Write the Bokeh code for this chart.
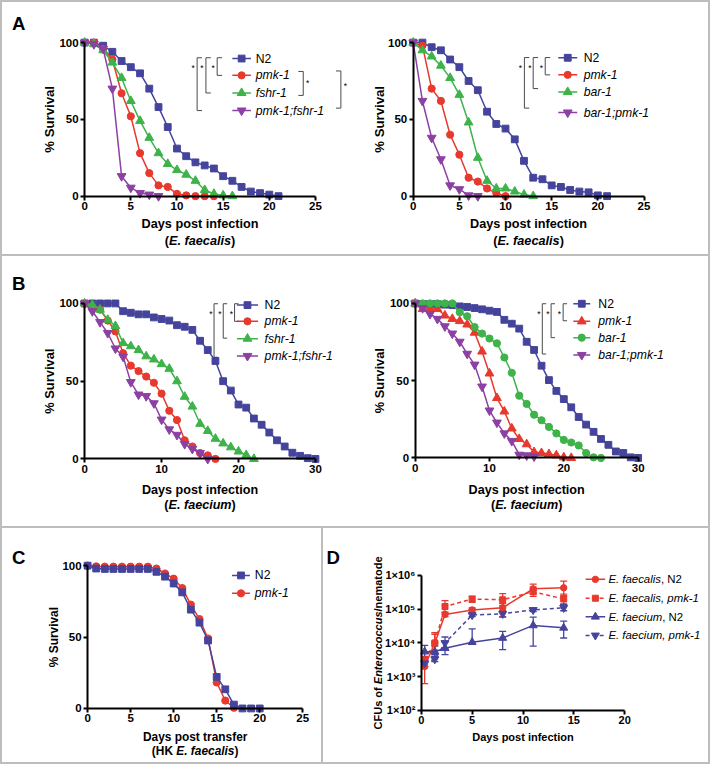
import math
from bokeh.plotting import figure
from bokeh.models import Range1d, Label, FixedTicker, Whisker, TeeHead, ColumnDataSource
from bokeh.layouts import row, column
from bokeh.embed import file_html
from bokeh.resources import INLINE

FONT = "Liberation Sans"
S = 0.978
BLUE = "#45449c"
RED = "#e8392e"
GREEN = "#3db34a"
PURPLE = "#8c40a3"
BRK = "#4a4a4a"
GRAY = "#bdbdbd"

# ---------------- data ----------------
# Panel A left (E. faecalis)
a1_n2_days = list(range(0, 22))
a1_n2 = [100, 100, 98, 94, 88, 84, 80, 70, 58, 45, 31, 26, 22, 20, 18, 13, 10, 6, 3, 2, 1, 0]
a1_pmk1_days = list(range(0, 15))
a1_pmk1 = [100, 100, 96, 89, 67, 52, 28, 15, 7, 6, 1.5, 0.5, 0, 0, 0]
a1_fshr1_days = list(range(0, 17))
a1_fshr1 = [100, 99, 95, 87, 77, 62, 49, 38, 28, 21, 17, 14, 10, 4, 1.5, 0.5, 0]
a1_dbl_days = list(range(0, 9))
a1_dbl = [100, 99, 96, 70, 13, 5.5, 2, 1, 0]

# Panel A right (E. faecalis)
a2_n2_days = list(range(0, 22))
a2_n2 = [100, 100, 97, 95, 89, 84, 75, 69, 55, 47, 44, 37, 23, 12, 11, 7, 6, 4, 3, 2.5, 0.5, 0]
a2_pmk1_days = list(range(0, 11))
a2_pmk1 = [100, 98, 70, 62, 40, 27, 12, 9.5, 5, 2, 0]
a2_bar1_days = list(range(0, 14))
a2_bar1 = [100, 95, 91, 85, 77, 66, 48, 25, 10, 5, 5, 3, 1, 0]
a2_dbl_days = list(range(0, 8))
a2_dbl = [100, 62, 38, 24, 7, 4.5, 0.5, 0]

# Panel B left (E. faecium)
b1_n2_days = list(range(0, 31))
b1_n2 = [100, 100, 100, 100, 100, 95, 94, 93, 93, 91, 90, 89, 86, 85, 83, 76, 70, 63, 50, 44,
         35, 33, 26, 22, 17, 12, 8, 4, 2, 0.5, 0]
b1_pmk1_days = list(range(0, 18))
b1_pmk1 = [100, 98, 96, 89, 82, 68, 60, 56.5, 53, 49, 42, 31, 25, 12, 8, 3.8, 2.3, 0]
b1_fshr1_days = list(range(0, 23))
b1_fshr1 = [100, 99, 96, 89.5, 85.5, 74.5, 72.5, 70, 66, 64, 61, 58, 50, 40, 33.7, 22.6, 18, 13,
            10, 7.5, 4.8, 2.5, 0]
b1_dbl_days = list(range(0, 17))
b1_dbl = [100, 95, 88, 81, 71, 65.7, 49.4, 41.4, 40.4, 35.8, 25.3, 19, 15.5, 9.6, 6.5, 3.8, 0]

# Panel B right (E. faecium)
b2_n2_days = list(range(0, 31))
b2_n2 = [100, 99.6, 99.6, 99.6, 99.2, 98.9, 98.1, 97.7, 97, 96.2, 95.3, 94.5, 89.4, 86.9, 83.7,
         75.2, 69.9, 59.7, 50.4, 43.4, 38.1, 32.8, 26.5, 21.6, 16.9, 12.3, 8.5, 4.2, 3.2, 0.4, 0]
b2_pmk1_days = list(range(0, 22))
b2_pmk1 = [100, 96.4, 96.4, 96.4, 92.2, 90, 88.6, 86.4, 81.1, 68.9, 54.7, 38.8, 30.1, 19.1, 12.3,
           8.9, 3.8, 3.2, 2.5, 1.7, 0.4, 0]
b2_bar1_days = list(range(0, 26))
b2_bar1 = [100, 100, 100, 100, 100, 100, 94.3, 91.7, 84.7, 80.5, 77.3, 74.2, 65, 55.1, 40.3, 35,
           28, 24.4, 20.1, 15.9, 11.7, 10, 8.1, 3.2, 0.4, 0]
b2_dbl_days = list(range(0, 17))
b2_dbl = [100, 97, 93.2, 90, 85.2, 80.5, 75.2, 67.4, 60.4, 46.2, 30.7, 22.9, 15.9, 11, 2.1, 1.7, 1]

# Panel C (HK E. faecalis)
c_n2_days = list(range(0, 21))
c_n2 = [100, 98, 97.7, 97.7, 97.7, 97.7, 97.7, 97.7, 95.7, 92.3, 87.5, 81.3, 69.2, 60.1, 47.6,
        22.1, 13.4, 2.7, 0, 0, 0]
c_pmk1_days = list(range(0, 18))
c_pmk1 = [100, 99.5, 99.3, 99.3, 99.3, 99.3, 99.3, 99.3, 98, 94.5, 90.9, 84.3, 72.7, 62.6, 49,
          18.2, 5.5, 0.5]

# Panel D (CFUs per nematode)
d_t = [0.33, 1.33, 2.33, 5, 8, 11, 14]
d_fs_n2 = [2.0e3, 1.0e4, 7.0e4, 9.5e4, 1.1e5, 4.0e5, 4.3e5]
d_fs_n2_lo = [6.2e2, 6.0e3, 6.0e4, 8.0e4, 6.0e4, 2.8e5, 2.5e5]
d_fs_n2_hi = [3.3e3, 1.8e4, 8.0e4, 1.1e5, 1.5e5, 5.5e5, 6.8e5]
d_fs_pmk1 = [3.2e3, 1.0e4, 1.2e5, 2.0e5, 1.9e5, 3.3e5, 2.0e5]
d_fs_pmk1_lo = [2.4e3, 6.0e3, 8.0e4, 1.6e5, 1.3e5, 2.4e5, 1.4e5]
d_fs_pmk1_hi = [4.0e3, 2.0e4, 1.8e5, 2.4e5, 2.9e5, 4.5e5, 2.8e5]
d_fm_n2 = [5.5e3, 5.5e3, 7.0e3, 1.05e4, 1.4e4, 3.3e4, 2.8e4]
d_fm_n2_lo = [3.0e3, 4.0e3, 4.5e3, 9.0e3, 6.3e3, 8.0e3, 1.4e4]
d_fm_n2_hi = [8.5e3, 8.0e3, 1.05e4, 2.6e4, 2.2e4, 5.8e4, 4.4e4]
d_fm_pmk1 = [2.5e3, 3.3e3, 1.0e4, 6.7e4, 7.3e4, 9.5e4, 1.1e5]
d_fm_pmk1_lo = [2.0e3, 2.8e3, 7.0e3, 6.0e4, 5.8e4, 8.5e4, 9.0e4]
d_fm_pmk1_hi = [3.0e3, 4.5e3, 1.5e4, 1.0e5, 9.0e4, 1.1e5, 1.4e5]

surv_yticks = [0, 50, 100]
a_xticks = [0, 5, 10, 15, 20, 25]
b_xticks = [0, 10, 20, 30]
d_xticks = [0, 5, 10, 15, 20]
d_yticks = [1e2, 1e3, 1e4, 1e5, 1e6]
d_ylabels = ["1×10²", "1×10³", "1×10⁴", "1×10⁵", "1×10⁶"]

# ---------------- text metrics (Arial / Liberation Sans) ----------------
REG = {' ': 278, '(': 333, ')': 333, ',': 278, '.': 278, '-': 333, '/': 278, ';': 278,
       'E': 667, 'H': 722, 'K': 667, 'N': 722, 'C': 722, 'F': 611, 'U': 722,
       'a': 556, 'b': 556, 'c': 500, 'd': 556, 'e': 556, 'f': 278, 'h': 556, 'i': 222,
       'k': 500, 'l': 222, 'm': 833, 'n': 556, 'o': 556, 'p': 556, 'r': 333, 's': 500,
       't': 278, 'u': 556}
BLD = {' ': 278, '(': 333, ')': 333, ',': 278, '.': 278, '-': 333, '/': 278, ';': 333,
       'E': 667, 'H': 722, 'K': 722, 'N': 722, 'C': 722, 'F': 611, 'U': 722,
       'a': 556, 'b': 611, 'c': 556, 'd': 611, 'e': 556, 'f': 333, 'h': 611, 'i': 278,
       'k': 556, 'l': 278, 'm': 889, 'n': 611, 'o': 611, 'p': 611, 'r': 389, 's': 556,
       't': 333, 'u': 611}


def tw(s, size, bold):
    t = BLD if bold else REG
    return sum(t.get(c, 556) for c in s) * size / 1000.0


class Panel:
    """A figure whose plotting frame covers the whole canvas; the axes sit at data 0."""

    def __init__(self, W, H, ox, oy, xd, xr, yd, yr, xticks, yticks, ylog=False,
                 tick_size=11.5, ylabels=None):
        self.ox, self.oy, self.ylog = ox, oy, ylog
        f = math.log10 if ylog else (lambda v: v)
        self.lx0 = (xr[0] - ox) * S
        lx1 = (xr[1] - ox) * S
        self.kx = (xd[1] - xd[0]) / (lx1 - self.lx0)
        self.ly0 = (yr[0] - oy) * S
        ly1 = (yr[1] - oy) * S
        self.ky = (f(yd[1]) - f(yd[0])) / (self.ly0 - ly1)
        self.x0, self.fy0 = xd[0], f(yd[0])
        xs = self.x0 - self.lx0 * self.kx
        xe = xd[1] + (W - lx1) * self.kx
        ys = self.fy0 - (H - self.ly0) * self.ky
        ye = f(yd[1]) + ly1 * self.ky
        if ylog:
            ys, ye = 10 ** ys, 10 ** ye
        p = figure(width=W, height=H, x_range=Range1d(xs, xe), y_range=Range1d(ys, ye),
                   y_axis_type="log" if ylog else "linear", output_backend="svg",
                   toolbar_location=None, tools="", title_location=None,
                   min_border=0, min_border_left=0, min_border_right=0,
                   min_border_top=0, min_border_bottom=0)
        p.outline_line_color = None
        p.xgrid.visible = False
        p.ygrid.visible = False
        p.background_fill_color = "white"
        p.border_fill_color = "white"
        p.styles = {"background-color": "white"}
        for ax in (p.xaxis[0], p.yaxis[0]):
            ax.axis_line_width = 2
            ax.axis_line_color = "black"
            ax.major_tick_line_width = 2
            ax.major_tick_line_color = "black"
            ax.major_tick_out = 4
            ax.major_tick_in = 0
            ax.minor_tick_out = 0
            ax.minor_tick_in = 0
            ax.major_label_text_font = FONT
            ax.major_label_text_font_style = "bold"
            ax.major_label_text_font_size = f"{tick_size}px"
            ax.major_label_text_color = "black"
            ax.major_label_standoff = 2
        p.xaxis[0].ticker = FixedTicker(ticks=xticks)
        p.yaxis[0].ticker = FixedTicker(ticks=yticks)
        p.xaxis[0].bounds = (xd[0], xd[1])
        p.yaxis[0].bounds = (yd[0], yd[1])
        p.xaxis[0].fixed_location = yd[0]
        p.yaxis[0].fixed_location = xd[0]
        if ylabels:
            p.yaxis[0].major_label_overrides = {t: l for t, l in zip(yticks, ylabels)}
        self.p = p

    def loc(self, rx, ry):
        return (rx - self.ox) * S, (ry - self.oy) * S

    def dl(self, lx, ly):
        x = self.x0 + (lx - self.lx0) * self.kx
        y = self.fy0 + (self.ly0 - ly) * self.ky
        return x, (10 ** y if self.ylog else y)

    def d(self, rx, ry):
        return self.dl(*self.loc(rx, ry))

    def text(self, lx, ly, s, size, bold=False, italic=False, align="left",
             baseline="middle", angle=0.0):
        x, y = self.dl(lx, ly)
        style = ("bold italic" if (bold and italic) else "bold" if bold
                 else "italic" if italic else "normal")
        self.p.add_layout(Label(x=x, y=y, text=s, text_font=FONT,
                                text_font_size=f"{size}px", text_font_style=style,
                                text_align=align, text_baseline=baseline, angle=angle,
                                text_color="black"))

    def rich(self, rx, ry, parts, size, bold=True, vertical=False, center=True):
        lx, ly = self.loc(rx, ry)
        widths = [tw(t, size, bold) for t, _ in parts]
        pos = -sum(widths) / 2 if center else 0.0
        for (t, it), w in zip(parts, widths):
            if vertical:
                self.text(lx, ly - pos, t, size, bold, it, angle=math.pi / 2)
            else:
                self.text(lx + pos, ly, t, size, bold, it)
            pos += w

    def letter(self, rx, ry, s):
        lx, ly = self.loc(rx, ry)
        self.text(lx, ly, s, 18.6, bold=True, baseline="alphabetic")

    def ylab(self, rx, ry, s, size):
        lx, ly = self.loc(rx, ry)
        self.text(lx, ly, s, size, bold=True, align="center", angle=math.pi / 2)

    def xlab(self, rx, ry, s, size):
        lx, ly = self.loc(rx, ry)
        self.text(lx, ly, s, size, bold=True, align="center")

    def series(self, xs, ys, color, marker, size, dash="solid"):
        self.p.line(xs, ys, line_color=color, line_width=1.5, line_dash=dash)
        self.p.scatter(xs, ys, marker=marker, size=size, fill_color=color, line_color=color)

    def legend(self, rx0, rx1, rxt, rys, items, size):
        for (parts, color, marker, msize, dash), ry in zip(items, rys):
            xa, y = self.d(rx0, ry)
            xb, _ = self.d(rx1, ry)
            self.p.line([xa, xb], [y, y], line_color=color, line_width=1.5, line_dash=dash)
            self.p.scatter([(xa + xb) / 2], [y], marker=marker, size=msize,
                           fill_color=color, line_color=color)
            self.rich(rxt, ry, parts, size, bold=False, center=False)

    def bracket(self, rx, ry0, ry1, tick, srx, sry):
        pts = [self.d(rx + tick, ry0), self.d(rx, ry0), self.d(rx, ry1), self.d(rx + tick, ry1)]
        self.p.line([q[0] for q in pts], [q[1] for q in pts], line_color=BRK, line_width=1)
        lx, ly = self.loc(srx, sry)
        self.text(lx, ly, "*", 8.5, align="center")


SQ, CI, TR, IT = "square", "circle", "triangle", "inverted_triangle"
MS = {SQ: 6.8, CI: 7.2, TR: 8.8, IT: 8.8}

# ---------------- Panel A left ----------------
A1 = Panel(353, 252, 2, 2, (0, 25), (86, 322), (0, 100), (200, 43), a_xticks, surv_yticks)
A1.series(a1_n2_days, a1_n2, BLUE, SQ, MS[SQ])
A1.series(a1_pmk1_days, a1_pmk1, RED, CI, MS[CI])
A1.series(a1_fshr1_days, a1_fshr1, GREEN, TR, MS[TR])
A1.series(a1_dbl_days, a1_dbl, PURPLE, IT, MS[IT])
A1.legend(237, 256, 261, [59.3, 76.5, 94.5, 112.5], [
    ([("N2", False)], BLUE, SQ, MS[SQ], "solid"),
    ([("pmk-1", True)], RED, CI, MS[CI], "solid"),
    ([("fshr-1", True)], GREEN, TR, MS[TR], "solid"),
    ([("pmk-1;fshr-1", True)], PURPLE, IT, MS[IT], "solid")], 12.2)
A1.bracket(201, 58.5, 112.5, 5, 197, 68.5)
A1.bracket(210, 58.5, 94.5, 5, 206, 68.5)
A1.bracket(221.5, 58.5, 76.5, 5, 217.5, 68.5)
A1.bracket(309.5, 72.5, 97, -5, 314, 84.5)
A1.bracket(348, 72, 110, -5, 352.5, 87)
A1.letter(11.7, 23.3, "A")
A1.xlab(204, 228.5, "Days post infection", 12.7)
A1.rich(204, 245.5, [("(", False), ("E. faecalis", True), (")", False)], 12.7)
A1.ylab(50, 121.5, "% Survival", 13.2)

# ---------------- Panel A right ----------------
A2 = Panel(353, 252, 363, 2, (0, 25), (422, 658), (0, 100), (200, 43), a_xticks, surv_yticks)
A2.series(a2_n2_days, a2_n2, BLUE, SQ, MS[SQ])
A2.series(a2_pmk1_days, a2_pmk1, RED, CI, MS[CI])
A2.series(a2_bar1_days, a2_bar1, GREEN, TR, MS[TR])
A2.series(a2_dbl_days, a2_dbl, PURPLE, IT, MS[IT])
A2.legend(570.3, 589.7, 596.3, [58.5, 76, 93.5, 114.5], [
    ([("N2", False)], BLUE, SQ, MS[SQ], "solid"),
    ([("pmk-1", True)], RED, CI, MS[CI], "solid"),
    ([("bar-1", True)], GREEN, TR, MS[TR], "solid"),
    ([("bar-1;pmk-1", True)], PURPLE, IT, MS[IT], "solid")], 12.2)
A2.bracket(535.7, 58.3, 110, 5, 531.5, 69)
A2.bracket(544.7, 58.3, 90, 5, 541.3, 69)
A2.bracket(557, 58.3, 76, 5, 553, 69)
A2.xlab(540, 228.5, "Days post infection", 12.7)
A2.rich(540, 245.5, [("(", False), ("E. faecalis", True), (")", False)], 12.7)
A2.ylab(388, 121.5, "% Survival", 13.2)

# ---------------- Panel B left ----------------
B1 = Panel(353, 270, 2, 261, (0, 30), (86, 322), (0, 100), (468, 309), b_xticks, surv_yticks)
B1.series(b1_n2_days, b1_n2, BLUE, SQ, MS[SQ])
B1.series(b1_pmk1_days, b1_pmk1, RED, CI, MS[CI])
B1.series(b1_fshr1_days, b1_fshr1, GREEN, TR, MS[TR])
B1.series(b1_dbl_days, b1_dbl, PURPLE, IT, MS[IT])
B1.legend(241.7, 263.3, 270, [310.7, 327.3, 345, 362.7], [
    ([("N2", False)], BLUE, SQ, MS[SQ], "solid"),
    ([("pmk-1", True)], RED, CI, MS[CI], "solid"),
    ([("fshr-1", True)], GREEN, TR, MS[TR], "solid"),
    ([("pmk-1;fshr-1", True)], PURPLE, IT, MS[IT], "solid")], 12.2)
B1.bracket(218.3, 309.3, 364, 4, 215, 320)
B1.bracket(227.7, 309.3, 344.5, 4, 224.3, 320)
B1.bracket(239.3, 309.3, 327.3, 4, 236, 320)
B1.letter(11.7, 288.3, "B")
B1.xlab(204, 499.5, "Days post infection", 12.6)
B1.rich(204, 515.5, [("(", False), ("E. faecium", True), (")", False)], 12.6)
B1.ylab(50, 388.5, "% Survival", 12.9)

# ---------------- Panel B right ----------------
B2 = Panel(353, 270, 363, 261, (0, 30), (424, 652), (0, 100), (467, 309), b_xticks, surv_yticks)
B2.series(b2_n2_days, b2_n2, BLUE, SQ, MS[SQ])
B2.series(b2_pmk1_days, b2_pmk1, RED, TR, MS[TR])
B2.series(b2_bar1_days, b2_bar1, GREEN, CI, MS[CI])
B2.series(b2_dbl_days, b2_dbl, PURPLE, IT, MS[IT])
B2.legend(585.7, 603, 611.3, [309.3, 327.3, 344, 361.7], [
    ([("N2", False)], BLUE, SQ, MS[SQ], "solid"),
    ([("pmk-1", True)], RED, TR, MS[TR], "solid"),
    ([("bar-1", True)], GREEN, CI, MS[CI], "solid"),
    ([("bar-1;pmk-1", True)], PURPLE, IT, MS[IT], "solid")], 12.2)
B2.bracket(554, 309.3, 360.7, 4, 550.5, 320)
B2.bracket(563, 309.3, 344, 4, 559.7, 320)
B2.bracket(575.3, 309.3, 326.7, 4, 571.5, 320)
B2.xlab(538, 499.5, "Days post infection", 12.6)
B2.rich(538, 515.5, [("(", False), ("E. faecium", True), (")", False)], 12.6)
B2.ylab(388, 388, "% Survival", 12.9)

# ---------------- Panel C ----------------
C = Panel(319, 234, 2, 538, (0, 25), (89, 309), (0, 100), (722, 576), a_xticks, surv_yticks)
C.series(c_pmk1_days, c_pmk1, RED, CI, MS[CI])
C.series(c_n2_days, c_n2, BLUE, SQ, MS[SQ])
C.legend(236.7, 255, 260, [586, 604.3], [
    ([("N2", False)], BLUE, SQ, MS[SQ], "solid"),
    ([("pmk-1", True)], RED, CI, MS[CI], "solid")], 12.2)
C.letter(11.7, 567.3, "C")
C.xlab(199, 751.7, "Days post transfer", 11.9)
C.rich(199, 765.5, [("(HK ", False), ("E. faecalis", True), (")", False)], 11.9)
C.ylab(55, 649, "% Survival", 11.9)

# ---------------- Panel D ----------------
D = Panel(385, 234, 330, 538, (0, 20), (430, 638), (1e2, 1e6), (724, 586), d_xticks, d_yticks,
          ylog=True, tick_size=11, ylabels=d_ylabels)
d_sets = [
    (d_fs_n2, d_fs_n2_lo, d_fs_n2_hi, RED, CI, "solid"),
    (d_fs_pmk1, d_fs_pmk1_lo, d_fs_pmk1_hi, RED, SQ, "4 3"),
    (d_fm_n2, d_fm_n2_lo, d_fm_n2_hi, BLUE, TR, "solid"),
    (d_fm_pmk1, d_fm_pmk1_lo, d_fm_pmk1_hi, BLUE, IT, "4 3"),
]
for vals, lo, hi, col, mk, dash in d_sets:
    src = ColumnDataSource(dict(t=d_t, lo=lo, hi=hi))
    D.p.add_layout(Whisker(source=src, base="t", lower="lo", upper="hi", line_color=col,
                           line_width=1.3,
                           upper_head=TeeHead(size=7, line_color=col, line_width=1.3),
                           lower_head=TeeHead(size=7, line_color=col, line_width=1.3)))
    D.series(d_t, vals, col, mk, MS[mk] - 0.8, dash)
D.legend(598, 618, 621.3, [590, 609.3, 628.3, 647.3], [
    ([("E. faecalis", True), (", N2", False)], RED, CI, MS[CI] - 0.8, "solid"),
    ([("E. faecalis", True), (", pmk-1", True)], RED, SQ, MS[SQ] - 0.8, "4 3"),
    ([("E. faecium", True), (", N2", False)], BLUE, TR, MS[TR] - 0.8, "solid"),
    ([("E. faecium", True), (", pmk-1", True)], BLUE, IT, MS[IT] - 0.8, "4 3")], 11.4)
D.letter(333, 567.3, "D")
D.xlab(534, 751, "Days post infection", 11)
D.rich(385.5, 655, [("CFUs of ", False), ("Enterococcus", True), ("/nematode", False)], 11,
       bold=True, vertical=True)

rowA = row(A1.p, A2.p, spacing=0)
rowB = row(B1.p, B2.p, spacing=0)
rowC = row(C.p, D.p, spacing=2, styles={"background-color": GRAY})
layout = column(rowA, rowB, rowC, spacing=2,
                styles={"background-color": GRAY, "padding": "2px"})

open("out.html", "w").write(file_html(layout, INLINE))
